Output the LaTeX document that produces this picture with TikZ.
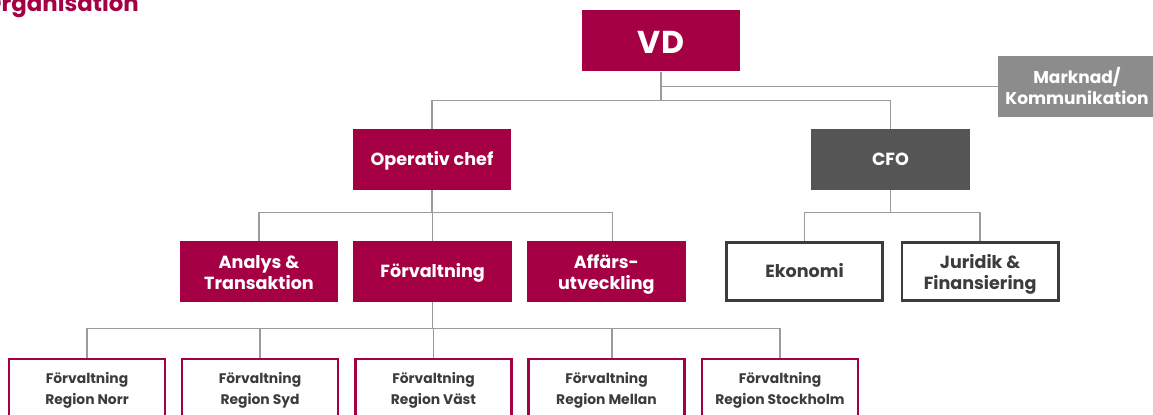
\documentclass[tikz,border=0pt]{standalone}
\usepackage{fontspec}
\setmainfont{Poppins}
\usetikzlibrary{positioning,calc}

\definecolor{brand}{RGB}{165,0,68}
\definecolor{stabgray}{RGB}{140,140,140}
\definecolor{cfogray}{RGB}{85,85,85}
\definecolor{textgray}{RGB}{60,60,60}
\definecolor{linegray}{RGB}{155,155,155}

\tikzset{
  box/.style={minimum width=3.18cm, minimum height=1.22cm, inner sep=0pt, align=center,
    text height=7.2pt, text depth=0pt, font=\bfseries\fontsize{10}{12}\selectfont},
  twolines/.style={text height=20.8pt},
  redbox/.style={box, fill=brand, text=white},
  greybox/.style={box, fill=cfogray, text=white},
  linebox/.style={box, draw=textgray, line width=1.5pt, fill=white, text=textgray,
    minimum width=3.125cm, minimum height=1.165cm},
  regionbox/.style={linebox, draw=brand, text height=19.2pt, font=\bfseries\fontsize{7.9}{11.9}\selectfont},
  link/.style={draw=linegray, line width=0.7pt},
}

\begin{document}
\begin{tikzpicture}[x=0.02cm, y=0.02cm]
    \useasboundingbox (0,0) rectangle (1153,415);

    \node[anchor=base east, text=brand, font=\bfseries\fontsize{13}{15}\selectfont] (title) at (145,403) {Organisation};

    % top level
    \node[redbox, text height=14.3pt, font=\bfseries\fontsize{18}{20}\selectfont] (vd) at (661,374) {VD};
    \node[box, twolines, fill=stabgray, text=white, minimum width=3.16cm, text height=20.2pt,
          font=\bfseries\fontsize{9.7}{11.9}\selectfont] (mk) at (1077,328.5) {Marknad/\\Kommunikation};

    \node[redbox] (op) at (432,255.5) {Operativ chef};
    \node[greybox] (cfo) at (890.5,255.5) {CFO};

    \draw[link] (vd.south) -- ++(0,-29) -| (op.north);
    \draw[link] (vd.south) -- ++(0,-29) -| (cfo.north);
    \draw[link] (vd.south) |- (mk.west);

    % second level
    \node[redbox, twolines] (at) at (259,143.5) {Analys \&\\Transaktion};
    \node[redbox, right=0.28cm of at] (fv) {Förvaltning};
    \node[redbox, twolines, right=0.28cm of fv] (au) {Affärs-\\utveckling};
    \node[linebox] (ek) at (804.5,143.5) {Ekonomi};
    \node[linebox, twolines, right=0.335cm of ek] (jf) {Juridik \&\\Finansiering};

    \draw[link] (op.south) -- ++(0,-22.5) -| (at.north);
    \draw[link] (op.south) -- ++(0,-22.5) -| (fv.north);
    \draw[link] (op.south) -- ++(0,-22.5) -| ([xshift=0.12cm]au.north);
    \foreach \c in {ek,jf}
        \draw[link] (cfo.south) -- ++(0,-22.5) -| (\c.north);

    % regions under Förvaltning
    \foreach \nm/\x/\reg/\dx in {rn/87/Norr/0, rs/260/Syd/0, rv/433.5/Väst/0, rm/606.5/Mellan/0.11, rst/780/Stockholm/0} {
        \node[regionbox] (\nm) at (\x,27) {Förvaltning\\Region \reg};
        \draw[link] (fv.south) -- ++(0,-26.5) -| ([xshift=\dx cm]\nm.north);
    }

\end{tikzpicture}
\end{document}
